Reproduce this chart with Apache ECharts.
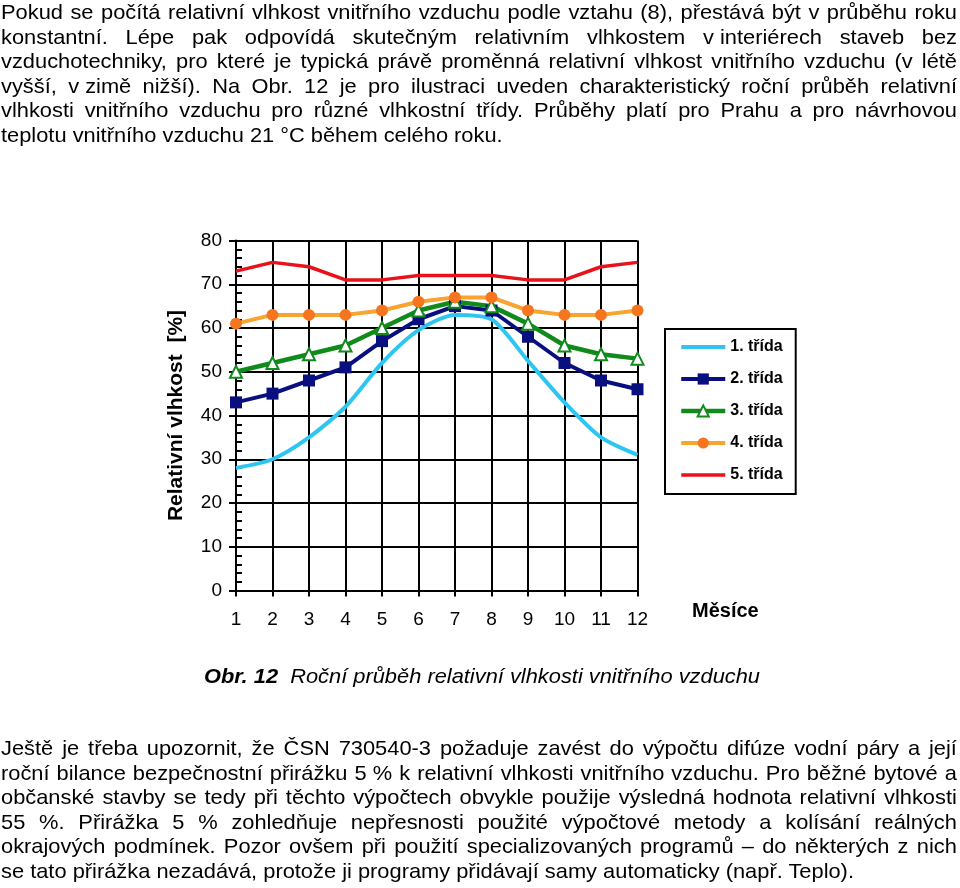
<!DOCTYPE html>
<html>
<head>
<meta charset="utf-8">
<script src="https://cdn.jsdelivr.net/npm/echarts@6/dist/echarts.min.js"></script>
<style>
  html, body { margin: 0; padding: 0; background: #fff; }
  #wrap { position: relative; width: 960px; height: 888px; overflow: hidden; }
  #chart { position: absolute; left: 0; top: 0; width: 960px; height: 888px; }
  .ln { position: absolute; left: 1px; height: 24.5px; line-height: 24.5px; white-space: pre;
        font-family: 'Liberation Sans', Arial, sans-serif; font-size: 21px; color: #000;
        transform: scaleX(1.04); transform-origin: 0 0; z-index: 2; }
  .just { display: flex; justify-content: space-between; }
  .cap { position: absolute; left: 0; width: 964px; text-align: center; height: 24.5px; line-height: 24.5px;
         font-family: 'Liberation Sans', Arial, sans-serif; font-size: 21px; font-style: italic; color: #000;
         transform: scaleX(1.04); transform-origin: 482px 0; white-space: pre; z-index: 2; }
</style>
</head>
<body>
<div id="wrap">
  <div id="chart"></div>
</div>
<script>
// ---- data ----
const months = ['1','2','3','4','5','6','7','8','9','10','11','12'];
const trida1 = [28, 30, 35, 42, 52, 59.5, 63, 62, 52.5, 43, 35, 31];
const trida2 = [43, 45, 48, 51, 57, 62, 65, 64, 58, 52, 48, 46];
const trida3 = [50, 52, 54, 56, 60, 64, 66, 65, 61, 56, 54, 53];
const trida4 = [61, 63, 63, 63, 64, 66, 67, 67, 64, 63, 63, 64];
const trida5 = [73, 75, 74, 71, 71, 72, 72, 72, 71, 71, 74, 75];
const seriesNames = ['1. třída', '2. třída', '3. třída', '4. třída', '5. třída'];
const yMin = 0, yMax = 80, yStep = 10;
const yAxisName = 'Relativní vlhkost  [%]';
const xAxisName = 'Měsíce';

// ---- surrounding text ----
const para1 = [
  'Pokud se počítá relativní vlhkost vnitřního vzduchu podle vztahu (8), přestává být v průběhu roku',
  'konstantní. Lépe pak odpovídá skutečným relativním vlhkostem v\u00a0interiérech staveb bez',
  'vzduchotechniky, pro které je typická právě proměnná relativní vlhkost vnitřního vzduchu (v létě',
  'vyšší, v\u00a0zimě nižší). Na Obr. 12 je pro ilustraci uveden charakteristický roční průběh relativní',
  'vlhkosti vnitřního vzduchu pro různé vlhkostní třídy. Průběhy platí pro Prahu a pro návrhovou',
  'teplotu vnitřního vzduchu 21 °C během celého roku.'
];
const para2 = [
  'Ještě je třeba upozornit, že ČSN 730540-3 požaduje zavést do výpočtu difúze vodní páry a její',
  'roční bilance bezpečnostní přirážku 5\u00a0% k relativní vlhkosti vnitřního vzduchu. Pro běžné bytové a',
  'občanské stavby se tedy při těchto výpočtech obvykle použije výsledná hodnota relativní vlhkosti',
  '55 %. Přirážka 5 % zohledňuje nepřesnosti použité výpočtové metody a kolísání reálných',
  'okrajových podmínek. Pozor ovšem při použití specializovaných programů – do některých z nich',
  'se tato přirážka nezadává, protože ji programy přidávají samy automaticky (např. Teplo).'
];
const captionBold = 'Obr. 12';
const captionRest = 'Roční průběh relativní vlhkosti vnitřního vzduchu';

const LH = 24.5, SX = 1.04, FULLW = 956;
const wrap = document.getElementById('wrap');
function renderPara(lines, top) {
  lines.forEach((ln, i) => {
    const d = document.createElement('div');
    d.className = 'ln';
    d.style.top = (top + i * LH) + 'px';
    if (i < lines.length - 1) {
      d.classList.add('just');
      d.style.width = (FULLW / SX) + 'px';
      ln.split(' ').forEach(w => {
        const s = document.createElement('span');
        s.textContent = w;
        d.appendChild(s);
      });
    } else {
      d.textContent = ln;
    }
    wrap.appendChild(d);
  });
}
renderPara(para1, 0);
renderPara(para2, 736);
const cap = document.createElement('div');
cap.className = 'cap';
cap.style.top = '664px';
const b = document.createElement('b');
b.textContent = captionBold;
cap.appendChild(b);
cap.appendChild(document.createTextNode('  ' + captionRest));
wrap.appendChild(cap);

// ---- chart ----
const chart = echarts.init(document.getElementById('chart'), null, { renderer: 'canvas' });
const FONT = 'Liberation Sans';
const black = '#000';
const option = {
  animation: false,
  backgroundColor: 'transparent',
  grid: { left: 236, top: 240.5, width: 401.5, height: 350, containLabel: false },
  legend: {
    orient: 'vertical',
    left: 665, top: 329,
    padding: [10, 13, 11, 14],
    itemWidth: 44, itemHeight: 14, itemGap: 16,
    borderColor: black, borderWidth: 2,
    lineStyle: { width: 'inherit' },
    data: [
      { name: seriesNames[0], itemStyle: { opacity: 0 } },
      { name: seriesNames[1] },
      { name: seriesNames[2] },
      { name: seriesNames[3] },
      { name: seriesNames[4], itemStyle: { opacity: 0 } }
    ],
    textStyle: { fontFamily: FONT, fontSize: 16, fontWeight: 'bold', color: black }
  },
  xAxis: {
    type: 'category',
    data: months,
    boundaryGap: false,
    axisLine: { lineStyle: { color: black, width: 2 } },
    axisTick: { show: true, length: 6, alignWithLabel: true, lineStyle: { color: black, width: 2 } },
    axisLabel: { fontFamily: FONT, fontSize: 19, color: black, margin: 20, interval: 0 },
    splitLine: { show: true, interval: 0, lineStyle: { color: black, width: 2 } }
  },
  yAxis: [{
    type: 'value',
    min: yMin, max: yMax, interval: yStep,
    name: yAxisName,
    nameLocation: 'middle',
    nameGap: 49,
    nameTextStyle: { fontFamily: FONT, fontSize: 21, fontWeight: 'bold', color: black },
    axisLine: { show: true, lineStyle: { color: black, width: 2 } },
    axisTick: { show: true, length: 7, lineStyle: { color: black, width: 2 } },
    axisLabel: { fontFamily: FONT, fontSize: 19, color: black, margin: 14 },
    splitLine: { show: true, lineStyle: { color: black, width: 2 } }
  }, {
    type: 'value',
    position: 'left',
    min: yMin, max: yMax, interval: yStep,
    axisLine: { show: false },
    axisLabel: { show: false },
    splitLine: { show: false },
    axisTick: { show: true, inside: true, length: 6, lineStyle: { color: black, width: 2 } },
    minorTick: { show: true, splitNumber: 5, length: 6, lineStyle: { color: black, width: 2 } }
  }],
  series: [
    { name: seriesNames[0], type: 'line', data: trida1, smooth: 0.25, symbol: 'none',
      lineStyle: { color: '#2EC6F0', width: 4 }, itemStyle: { color: '#2EC6F0' } },
    { name: seriesNames[1], type: 'line', data: trida2, symbol: 'rect', symbolSize: 12,
      lineStyle: { color: '#0A0F80', width: 4 }, itemStyle: { color: '#0A0F80' } },
    { name: seriesNames[2], type: 'line', data: trida3, symbol: 'triangle', symbolSize: 12,
      lineStyle: { color: '#118A1C', width: 4.5 },
      itemStyle: { color: '#ffffff', borderColor: '#118A1C', borderWidth: 2 } },
    { name: seriesNames[3], type: 'line', data: trida4, symbol: 'circle', symbolSize: 12,
      lineStyle: { color: '#F9A331', width: 4 }, itemStyle: { color: '#F5761F' } },
    { name: seriesNames[4], type: 'line', data: trida5, symbol: 'none',
      lineStyle: { color: '#E8121A', width: 3.5 }, itemStyle: { color: '#E8121A' } }
  ],
  graphic: [{
    type: 'text', left: 692, top: 601,
    style: { text: xAxisName, fontFamily: FONT, fontSize: 20, fontWeight: 'bold', fill: black }
  }]
};
chart.setOption(option);
</script>
</body>
</html>
